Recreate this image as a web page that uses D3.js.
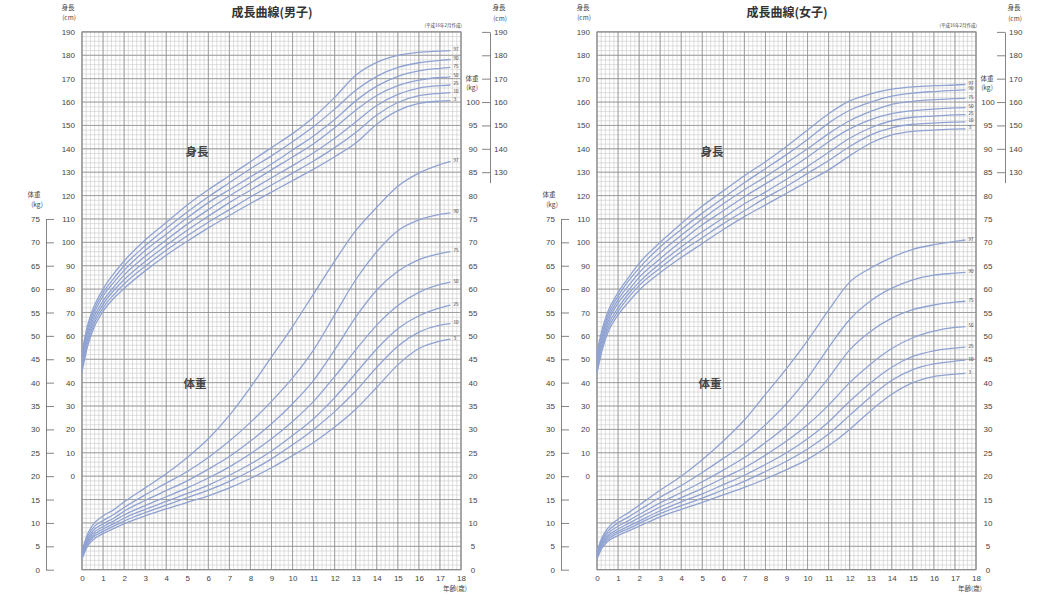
<!DOCTYPE html>
<html><head><meta charset="utf-8">
<script src="https://cdn.jsdelivr.net/npm/d3@7"></script>
<style>
body{margin:0;background:#fff;}
text{font-family:"Noto Sans CJK JP","Noto Sans",sans-serif;}
</style></head>
<body>
<svg id="c" width="1037" height="600"></svg>
<script>
// ---- data ----
const ages = [0,0.25,0.5,1,1.5,2,3,4,5,6,7,8,9,10,11,12,13,14,15,16,17,17.5];
const percentileLabels = ["97","90","75","50","25","10","3"];
const ageTicks = d3.range(0,19,1);
const heightTicks = d3.range(0,191,10);
const weightTicksLeft = d3.range(0,76,5);
const weightTicksRight = d3.range(0,101,5);
const heightTicksRight = d3.range(130,191,10);

const boysHeight = [
 [53,64,71,80,86.5,92,101,108.5,116,122.5,128.5,134.5,140.5,146.5,153.5,162,171.5,177,180,181.3,181.8,182],
 [51.5,62.5,69.5,78.5,84.5,90,98.5,106,113,119.5,125.5,131.5,137,143,149.5,157,165,171,174.8,176.8,177.8,178.2],
 [50.5,61,68,77,82.8,88,96.5,103.5,110.5,117,122.5,128,133.5,139.5,145.5,152.5,160.5,166.8,171,173.3,174.4,174.8],
 [49,59.5,66.5,75,80.8,86,94,101,107.8,114,119.8,125.4,131,136.5,142.2,149,156.5,162.8,167,169.4,170.5,170.8],
 [47.5,58,65,73.5,79.3,84,91.8,98.7,105.2,111.2,117,122.3,127.6,132.8,138.3,144.5,151.5,158.5,163.3,166,167,167.3],
 [46,56.5,63.5,72,77.5,82.2,89.8,96.6,102.8,108.6,114,119.4,124.5,129.6,134.8,140.5,147,154.5,159.8,162.7,163.7,164],
 [44.5,55,62,70.5,76,80.3,87.8,94.5,100.5,106.2,111.5,116.6,121.5,126.4,131.3,136.6,142.5,150.5,156.3,159.4,160.4,160.6]
];
const boysWeight = [
 [4.0,7.5,9.5,11.5,12.8,14.5,17.5,20.5,24,28,33,39,45.5,52,59,66,72.5,77.5,82,84.8,86.6,87.3],
 [3.6,7.0,8.8,10.5,11.8,13.3,16,18.5,21,24,27.5,31.5,36,41,47,54.5,62,68,72.5,74.8,76,76.3],
 [3.3,6.5,8.2,9.8,11,12.5,14.8,16.9,19,21.5,24.2,27.5,31.2,35.5,40.5,47,54,59.8,63.8,66.3,67.6,68],
 [3.0,6.1,7.7,9.2,10.4,11.7,13.7,15.6,17.5,19.6,22,24.8,28,31.7,36,41.3,47,52.3,56.5,59.3,61,61.5],
 [2.8,5.7,7.2,8.7,9.8,11.0,12.9,14.6,16.3,18.1,20.2,22.6,25.4,28.7,32.3,36.8,42,47.2,51.5,54.3,56,56.6],
 [2.6,5.3,6.8,8.2,9.3,10.4,12.2,13.8,15.4,17,18.9,21.1,23.7,26.7,30,33.8,38.2,43.3,47.8,50.8,52.3,52.6],
 [2.3,4.9,6.3,7.7,8.8,9.8,11.5,13,14.4,15.8,17.5,19.5,21.8,24.4,27.2,30.5,34.3,39,43.8,47.3,48.9,49.3]
];
const girlsHeight = [
 [53,63,70,78.5,85,91,100,108,115.5,122,128.5,134.5,141,148,155,160.5,163.5,165.5,166.5,167,167.3,167.5],
 [51.5,61.5,68.5,77,83.5,89,98,105.5,112.5,119,125.5,131.5,137.5,144,151,156.5,160,162.5,163.8,164.5,165,165.2],
 [50,60,67,75.5,81.5,87,95.5,103,110,116.5,122.5,128,134,140,146.5,152,156,159,160.3,161,161.5,161.6],
 [48.5,58.5,65.5,74,79.5,85,93,100.5,107.5,113.5,119.5,125,130.5,136.5,143,148.5,152.5,155,156.3,157,157.5,157.6],
 [47,57,64,72,78,83,91,98,104.5,110.5,116.5,121.5,127,132.5,138.5,144.5,149,152,153.5,154,154.5,154.6],
 [45.5,55.5,62.5,70.5,76.5,81.5,89,96,102,108,113.5,119,124,129.5,135,141,146,149,150.5,151,151.4,151.5],
 [44,54,61,69,74.5,79.5,87,93.5,99.5,105.5,111,116,121,126,131,137,142.5,146,147.5,148,148.4,148.5]
];
const girlsWeight = [
 [3.9,7.0,8.8,10.8,12.2,13.8,17,20,23.5,27.5,32,37.5,43,49,55.5,61.5,64.5,66.8,68.5,69.5,70.2,70.5],
 [3.5,6.6,8.2,10,11.3,12.7,15.5,18,20.8,23.8,27,31,35.5,41,47.5,53.5,57.5,60.2,62,63,63.4,63.6],
 [3.2,6.2,7.7,9.3,10.5,11.8,14.3,16.5,18.8,21.3,24,27.2,30.8,35.5,41,47,51,53.8,55.6,56.6,57.2,57.4],
 [3.0,5.8,7.2,8.7,9.9,11.1,13.4,15.4,17.4,19.6,21.8,24.5,27.5,31,35.2,40,44,47.3,49.6,51,51.8,52],
 [2.8,5.4,6.8,8.2,9.3,10.4,12.6,14.5,16.2,18.2,20.2,22.5,25,28,31.6,36,40,43.3,45.6,46.8,47.4,47.6],
 [2.6,5.1,6.4,7.8,8.8,9.9,12,13.7,15.3,17.1,18.9,21,23.2,25.8,29,33,37,40.5,42.8,44,44.6,44.8],
 [2.3,4.7,6.0,7.3,8.3,9.3,11.3,12.9,14.4,16,17.6,19.4,21.4,23.6,26.5,30,34,37.5,40,41.3,41.8,42]
];

// ---- drawing ----
const svg = d3.select("#c");
const x0 = 82, x1 = 461, yTop = 31.9, yBot = 569.7;
const lineColor = "#8fa2d2";

function drawChart(ox, title, hData, wData) {
  const g = svg.append("g").attr("transform", `translate(${ox},0)`);
  const x = d3.scaleLinear().domain([0,18]).range([x0,x1]);
  const w = d3.scaleLinear().domain([0,115]).range([yBot,yTop]);
  const h = d3.scaleLinear().domain([-40,190]).range([yBot,yTop]);

  // grid minor
  const grid = g.append("g");
  d3.range(0,18.001,0.2).forEach(a=>{
    grid.append("line").attr("x1",x(a)).attr("x2",x(a)).attr("y1",yTop).attr("y2",yBot)
      .attr("stroke","#c9c9c9").attr("stroke-width",0.6);
  });
  d3.range(0,115.001,1).forEach(v=>{
    grid.append("line").attr("x1",x0).attr("x2",x1).attr("y1",w(v)).attr("y2",w(v))
      .attr("stroke","#c9c9c9").attr("stroke-width",0.6);
  });
  // grid major
  d3.range(0,18.001,1).forEach(a=>{
    grid.append("line").attr("x1",x(a)).attr("x2",x(a)).attr("y1",yTop).attr("y2",yBot)
      .attr("stroke","#8e8e8e").attr("stroke-width",0.8);
  });
  d3.range(0,115.001,5).forEach(v=>{
    grid.append("line").attr("x1",x0).attr("x2",x1).attr("y1",w(v)).attr("y2",w(v))
      .attr("stroke","#8e8e8e").attr("stroke-width",0.8);
  });
  grid.append("rect").attr("x",x0).attr("y",yTop).attr("width",x1-x0).attr("height",yBot-yTop)
    .attr("fill","none").attr("stroke","#888").attr("stroke-width",1);

  // curves
  const hLine = d3.line().x((d,i)=>x(ages[i])).y(d=>h(d)).curve(d3.curveMonotoneX);
  const wLine = d3.line().x((d,i)=>x(ages[i])).y(d=>w(d)).curve(d3.curveMonotoneX);
  hData.forEach((s,k)=>{
    g.append("path").attr("d",hLine(s)).attr("fill","none").attr("stroke",lineColor).attr("stroke-width",1.3);
    g.append("text").attr("x",x(17.5)+3).attr("y",h(s[s.length-1])+0.5).attr("font-size",4.5).attr("fill","#333").text(percentileLabels[k]);
  });
  wData.forEach((s,k)=>{
    g.append("path").attr("d",wLine(s)).attr("fill","none").attr("stroke",lineColor).attr("stroke-width",1.3);
    g.append("text").attr("x",x(17.5)+3).attr("y",w(s[s.length-1])+0.5).attr("font-size",4.5).attr("fill","#333").text(percentileLabels[k]);
  });

  const fs = 8, tc = "#444";
  // left height labels
  const hAx = g.append("g").attr("transform","translate(75,0)")
    .call(d3.axisLeft(h).tickValues(heightTicks).tickSize(0).tickPadding(0));
  hAx.select(".domain").remove();
  hAx.selectAll("text").attr("font-size",fs).attr("fill",tc).style("font-family","'Liberation Sans',Arial,sans-serif");
  // left weight axis
  const wl = d3.scaleLinear().domain([0,75]).range([w(0),w(75)]);
  const wAx = g.append("g").attr("transform","translate(46,0)")
    .call(d3.axisLeft(wl).tickValues(weightTicksLeft).tickSize(-8).tickSizeOuter(0).tickPadding(6));
  wAx.selectAll("line,path").attr("stroke","#666").attr("stroke-width",0.8);
  wAx.selectAll("text").attr("font-size",fs).attr("fill",tc).style("font-family","'Liberation Sans',Arial,sans-serif");
  // right weight labels
  const wr = g.append("g").attr("transform","translate(473,0)")
    .call(d3.axisRight(w).tickValues(weightTicksRight).tickSize(0).tickPadding(0));
  wr.select(".domain").remove();
  wr.selectAll("text").attr("text-anchor","middle").attr("font-size",fs).attr("fill",tc).style("font-family","'Liberation Sans',Arial,sans-serif");
  // right height axis
  const hr = d3.scaleLinear().domain([125.5,190]).range([h(125.5),h(190)]);
  const hrAx = g.append("g").attr("transform","translate(490,0)")
    .call(d3.axisRight(hr).tickValues(heightTicksRight).tickSize(-8).tickSizeOuter(0).tickPadding(4));
  hrAx.selectAll("line,path").attr("stroke","#666").attr("stroke-width",0.8);
  hrAx.selectAll("text").attr("font-size",fs).attr("fill",tc).style("font-family","'Liberation Sans',Arial,sans-serif");
  // age axis
  const xAx = g.append("g").attr("transform",`translate(0,${yBot})`)
    .call(d3.axisBottom(x).tickValues(ageTicks).tickSize(0).tickPadding(5.5));
  xAx.select(".domain").remove();
  xAx.selectAll("text").attr("font-size",fs).attr("fill",tc).style("font-family","'Liberation Sans',Arial,sans-serif");

  // unit labels
  const small = (tx,ty,t,size,anchor)=>g.append("text").attr("x",tx).attr("y",ty).attr("font-size",size)
     .attr("fill",tc).attr("text-anchor",anchor||"middle").text(t);
  small(68,10,"身長",6.5); small(69,20,"(cm)",6.5);
  small(499,10,"身長",6.5); small(500,21,"(cm)",6.5);
  small(34,197,"体重",6.5); small(37,207,"(kg)",6.5);
  small(472,81,"体重",6.5); small(472,90,"(kg)",6.5);
  small(467,591,"年齢(歳)",6.5,"end");
  small(462,27,"(平成16年2月作成)",4.5,"end");
  g.append("text").attr("x",272).attr("y",17).attr("font-size",12).attr("font-weight","bold")
    .attr("fill","#333").attr("text-anchor","middle").text(title);
  g.append("text").attr("x",197).attr("y",156).attr("font-size",11.5).attr("font-weight","bold")
    .attr("fill","#444").attr("text-anchor","middle").text("身長");
  g.append("text").attr("x",195).attr("y",388).attr("font-size",11.5).attr("font-weight","bold")
    .attr("fill","#444").attr("text-anchor","middle").text("体重");
}

drawChart(0, "成長曲線(男子)", boysHeight, boysWeight);
drawChart(515, "成長曲線(女子)", girlsHeight, girlsWeight);
</script>
</body></html>
